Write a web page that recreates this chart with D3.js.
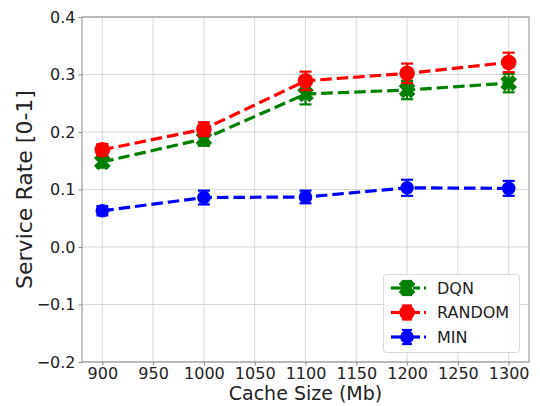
<!DOCTYPE html>
<html><head><meta charset="utf-8">
<script src="https://cdn.jsdelivr.net/npm/d3@7/dist/d3.min.js"></script>
<style>body{margin:0;background:#fff}svg{font-family:"DejaVu Sans",sans-serif}</style>
</head><body><svg id="c" width="540" height="406"></svg>
<script>
const cacheSizes = [900, 1000, 1100, 1200, 1300];
const dqn = [0.148, 0.188, 0.266, 0.273, 0.285];
const dqnErr = [0.010, 0.012, 0.018, 0.016, 0.016];
const random = [0.169, 0.205, 0.289, 0.302, 0.321];
const randomErr = [0.010, 0.012, 0.016, 0.017, 0.017];
const minS = [0.063, 0.086, 0.087, 0.103, 0.102];
const minErr = [0.008, 0.012, 0.011, 0.014, 0.013];
const xTicks = [900, 950, 1000, 1050, 1100, 1150, 1200, 1250, 1300];
const yTicks = [-0.2, -0.1, 0.0, 0.1, 0.2, 0.3, 0.4];

const series = [
  {name: "DQN", color: "#008000", vals: dqn, err: dqnErr, marker: "X"},
  {name: "RANDOM", color: "#ff0000", vals: random, err: randomErr, marker: "O"},
  {name: "MIN", color: "#0000ff", vals: minS, err: minErr, marker: "o"}
];

const svg = d3.select("#c");
const L = 82, R = 529, T = 17, B = 362;
const x = d3.scaleLinear().domain([880, 1320]).range([L, R]);
const y = d3.scaleLinear().domain([-0.2, 0.4]).range([B, T]);

// grid
svg.append("g").selectAll("line").data(xTicks).join("line")
  .attr("x1", d => x(d)).attr("x2", d => x(d)).attr("y1", T).attr("y2", B)
  .attr("stroke", "#d3d3d3").attr("stroke-width", 0.9);
svg.append("g").selectAll("line").data(yTicks).join("line")
  .attr("y1", d => y(d)).attr("y2", d => y(d)).attr("x1", L).attr("x2", R)
  .attr("stroke", "#d3d3d3").attr("stroke-width", 0.9);

// axes
const xAxis = svg.append("g").attr("transform", `translate(0,${B})`)
  .call(d3.axisBottom(x).tickValues(xTicks).tickSize(3.5).tickPadding(2).tickFormat(d3.format("d")));
const yAxis = svg.append("g").attr("transform", `translate(${L},0)`)
  .call(d3.axisLeft(y).tickValues(yTicks).tickSize(3.5).tickPadding(3)
    .tickFormat(d => d3.format(".1f")(d).replace("-", "\u2212")));
[xAxis, yAxis].forEach(a => {
  a.selectAll("text").attr("font-size", 16).attr("fill", "#222").attr("font-family", "DejaVu Sans");
  a.selectAll("line").attr("stroke", "#888");
  a.select(".domain").remove();
});
xAxis.selectAll("text").attr("dy", "0.72em");
// frame
svg.append("rect").attr("x", L).attr("y", T).attr("width", R - L).attr("height", B - T)
  .attr("fill", "none").attr("stroke", "#888").attr("stroke-width", 1);

// labels
svg.append("text").attr("x", (L + R) / 2).attr("y", 400).attr("text-anchor", "middle")
  .attr("font-size", 19).attr("fill", "#222").text("Cache Size (Mb)");
svg.append("text").attr("transform", `translate(32,${(T + B) / 2 + 0}) rotate(-90)`).attr("text-anchor", "middle")
  .attr("font-size", 22).attr("fill", "#222").text("Service Rate [0-1]");

function xPath(s) {
  const a = s * 0.5, b = s;
  return `M${-b + a},${-b} L0,${-a} L${b - a},${-b} L${b},${-b + a} L${a},0 L${b},${b - a} L${b - a},${b} L0,${a} L${-b + a},${b} L${-b},${b - a} L${-a},0 L${-b},${-b + a} Z`;
}
function drawMarker(g, m, color) {
  if (m === "X") g.append("path").attr("d", xPath(7.8)).attr("fill", color)
    .attr("stroke", color).attr("stroke-width", 1).attr("stroke-linejoin", "round");
  else if (m === "O") g.append("circle").attr("r", 7.8).attr("fill", color);
  else g.append("circle").attr("r", 6.8).attr("fill", color);
}

const line = d3.line().x(d => x(d[0])).y(d => y(d[1]));
series.forEach(s => {
  const pts = cacheSizes.map((c, i) => [c, s.vals[i], s.err[i]]);
  const g = svg.append("g");
  g.append("path").datum(pts).attr("d", line).attr("fill", "none")
    .attr("stroke", s.color).attr("stroke-width", 3.2).attr("stroke-dasharray", "11.5,5");
  pts.forEach(p => {
    const px = x(p[0]), y1 = y(p[1] - p[2]), y2 = y(p[1] + p[2]);
    g.append("line").attr("x1", px).attr("x2", px).attr("y1", y1).attr("y2", y2)
      .attr("stroke", s.color).attr("stroke-width", 2.2);
    [y1, y2].forEach(yy => g.append("line").attr("x1", px - 6).attr("x2", px + 6)
      .attr("y1", yy).attr("y2", yy).attr("stroke", s.color).attr("stroke-width", 2.2));
    drawMarker(g.append("g").attr("transform", `translate(${px},${y(p[1])})`), s.marker, s.color);
  });
});

// legend
const lg = svg.append("g");
lg.append("rect").attr("x", 383.5).attr("y", 274.5).attr("width", 136).attr("height", 78).attr("rx", 3)
  .attr("fill", "rgba(255,255,255,0.85)").attr("stroke", "#d8d8d8");
series.forEach((s, i) => {
  const cy = 288 + i * 24.5, cx = 407;
  const e = lg.append("g");
  e.append("line").attr("x1", 391).attr("x2", 402).attr("y1", cy).attr("y2", cy).attr("stroke", s.color).attr("stroke-width", 3.2);
  e.append("line").attr("x1", 413).attr("x2", 420).attr("y1", cy).attr("y2", cy).attr("stroke", s.color).attr("stroke-width", 3.2);
  e.append("line").attr("x1", 424).attr("x2", 426).attr("y1", cy).attr("y2", cy).attr("stroke", s.color).attr("stroke-width", 3.2);
  e.append("line").attr("x1", cx).attr("x2", cx).attr("y1", cy - 7).attr("y2", cy + 7).attr("stroke", s.color).attr("stroke-width", 2.2);
  [cy - 7, cy + 7].forEach(yy => e.append("line").attr("x1", cx - 5).attr("x2", cx + 5).attr("y1", yy).attr("y2", yy).attr("stroke", s.color).attr("stroke-width", 2.2));
  drawMarker(e.append("g").attr("transform", `translate(${cx},${cy})`), s.marker, s.color);
  lg.append("text").attr("x", 437).attr("y", cy).attr("dy", "0.36em").attr("font-size", 16).attr("fill", "#222").text(s.name);
});
</script></body></html>
